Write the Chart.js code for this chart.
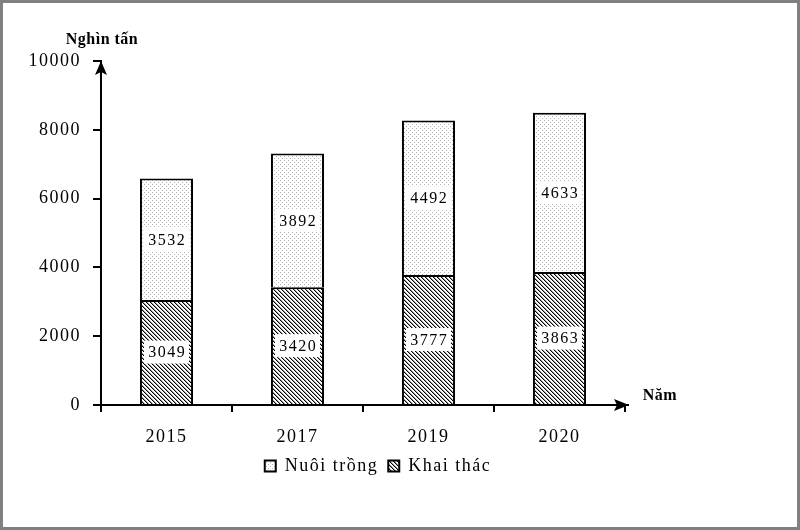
<!DOCTYPE html>
<html>
<head>
<meta charset="utf-8">
<script src="https://cdn.jsdelivr.net/npm/chart.js@4/dist/chart.umd.min.js"></script>
<style>
  html, body { margin: 0; padding: 0; background: #fff; }
  #wrap { width: 800px; height: 530px; position: relative; }
</style>
</head>
<body>
<div id="wrap"><canvas id="c" width="800" height="530"></canvas></div>
<script>
const years = ['2015', '2017', '2019', '2020'];
const khaiThac = [3049, 3420, 3777, 3863];
const nuoiTrong = [3532, 3892, 4492, 4633];
const seriesNames = ['Nuôi trồng', 'Khai thác'];
const yTitle = 'Nghìn tấn';
const xTitle = 'Năm';
const yMax = 10000;
const yStep = 2000;

const canvas = document.getElementById('c');
const ctx0 = canvas.getContext('2d');

function makeHatch() {
  const c = document.createElement('canvas');
  c.width = 4; c.height = 4;
  const x = c.getContext('2d');
  x.fillStyle = '#fff'; x.fillRect(0, 0, 4, 4);
  for (let i = 0; i < 4; i++) {
    x.fillStyle = '#000'; x.fillRect(i, i, 1, 1);
    x.fillStyle = '#9a9a9a'; x.fillRect((i + 1) % 4, i, 1, 1);
  }
  return ctx0.createPattern(c, 'repeat');
}
function makeDots() {
  const c = document.createElement('canvas');
  c.width = 4; c.height = 4;
  const x = c.getContext('2d');
  x.fillStyle = '#fff'; x.fillRect(0, 0, 4, 4);
  x.fillStyle = '#b4b4b4';
  x.fillRect(0, 0, 1, 1);
  x.fillRect(2, 2, 1, 1);
  return ctx0.createPattern(c, 'repeat');
}

const SERIF = '"Liberation Serif", "Times New Roman", serif';
Chart.defaults.font.family = SERIF;
Chart.defaults.color = '#000';

const spacingPlugin = {
  id: 'spacing',
  beforeUpdate(chart) { chart.ctx.letterSpacing = '1.5px'; },
  beforeDraw(chart) { chart.ctx.letterSpacing = '1.5px'; }
};

const decorPlugin = {
  id: 'decor',
  afterDatasetsDraw(chart) {
    const ctx = chart.ctx;
    ctx.save();
    ctx.font = '16px ' + SERIF;
    ctx.textAlign = 'center';
    ctx.textBaseline = 'middle';
    chart.data.datasets.forEach((ds, di) => {
      const meta = chart.getDatasetMeta(di);
      meta.data.forEach((bar, i) => {
        const cy = (bar.y + bar.base) / 2;
        ctx.fillStyle = '#fff';
        ctx.fillRect(bar.x - 22.5, cy - 11.5, 45, 23);
        ctx.fillStyle = '#000';
        ctx.fillText(String(ds.data[i]), bar.x + 0.75, cy + 1);
      });
    });
    ctx.restore();
  },
  afterDraw(chart) {
    const ctx = chart.ctx;
    const a = chart.chartArea;
    const yS = chart.scales.y;
    const xS = chart.scales.x;
    ctx.save();
    ctx.fillStyle = '#000';
    ctx.strokeStyle = '#000';
    const ax = yS.right;
    const topY = a.top;
    ctx.beginPath();
    ctx.moveTo(ax, topY);
    ctx.lineTo(ax - 6, topY + 14);
    ctx.lineTo(ax, topY + 11);
    ctx.lineTo(ax + 6, topY + 14);
    ctx.closePath();
    ctx.fill();
    const by = xS.top;
    const rx = a.right + 4;
    ctx.lineWidth = 2;
    ctx.beginPath();
    ctx.moveTo(a.right - 2, by);
    ctx.lineTo(rx, by);
    ctx.stroke();
    ctx.beginPath();
    ctx.moveTo(rx, by);
    ctx.lineTo(rx - 15, by - 6);
    ctx.lineTo(rx - 12, by);
    ctx.lineTo(rx - 15, by + 6);
    ctx.closePath();
    ctx.fill();
    ctx.font = 'bold 16px ' + SERIF;
    ctx.letterSpacing = '0.5px';
    ctx.textAlign = 'center';
    ctx.textBaseline = 'middle';
    ctx.fillText(yTitle, ax + 1, 40);
    ctx.fillText(xTitle, 660, by - 9);
    ctx.strokeStyle = '#808080';
    ctx.lineWidth = 3;
    ctx.strokeRect(1.5, 1.5, 797, 527);
    ctx.restore();
  }
};

new Chart(canvas, {
  type: 'bar',
  data: {
    labels: years,
    datasets: [
      {
        label: seriesNames[1],
        data: khaiThac,
        backgroundColor: makeHatch(),
        borderColor: '#000',
        borderWidth: 2
      },
      {
        label: seriesNames[0],
        data: nuoiTrong,
        backgroundColor: makeDots(),
        borderColor: '#000',
        borderWidth: 2
      }
    ]
  },
  options: {
    responsive: false,
    animation: false,
    devicePixelRatio: 1,
    categoryPercentage: 1,
    barPercentage: 0.405,
    layout: { padding: { left: 0, right: 44, top: 61, bottom: 45 } },
    plugins: {
      legend: {
        position: 'bottom',
        reverse: true,
        labels: {
          boxWidth: 11,
          boxHeight: 11,
          padding: 10,
          font: { size: 18 },
          color: '#000'
        }
      },
      tooltip: { enabled: false }
    },
    scales: {
      x: {
        stacked: true,
        offset: true,
        grid: {
          display: true, drawOnChartArea: false, drawTicks: true,
          tickLength: 7, color: '#000', lineWidth: 2, offset: true
        },
        border: { display: true, color: '#000', width: 2 },
        ticks: { font: { size: 18 }, color: '#000', padding: 14 },
        afterFit(s) { s.height = 42; }
      },
      y: {
        stacked: true,
        min: 0,
        max: yMax,
        grid: {
          display: true, drawOnChartArea: false, drawTicks: true,
          tickLength: 8, color: '#000', lineWidth: 2
        },
        border: { display: true, color: '#000', width: 2 },
        ticks: {
          stepSize: yStep, font: { size: 18 }, color: '#000', padding: 12,
          callback: (v) => String(v)
        },
        afterFit(s) { s.width = 101; }
      },
      yR: {
        type: 'linear',
        position: 'right',
        display: true,
        grid: { display: false },
        border: { display: false },
        ticks: { display: false },
        afterFit(s) { s.width = 131; }
      }
    }
  },
  plugins: [spacingPlugin, decorPlugin]
});
</script>
</body>
</html>
